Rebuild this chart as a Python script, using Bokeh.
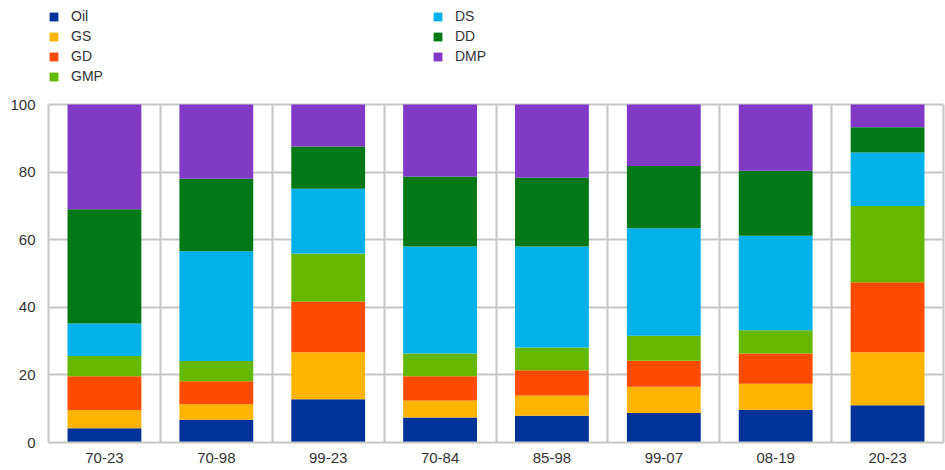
from bokeh.plotting import figure
from bokeh.models import ColumnDataSource, FixedTicker, Legend, LegendItem, Range1d, LinearAxis
from bokeh.embed import file_html
from bokeh.resources import INLINE

categories = ["70-23", "70-98", "99-23", "70-84", "85-98", "99-07", "08-19", "20-23"]
series = ["Oil", "GS", "GD", "GMP", "DS", "DD", "DMP"]
oil = [4.2, 6.7, 12.8, 7.4, 7.9, 8.7, 9.7, 11.0]
gs = [5.4, 4.6, 13.9, 5.0, 6.0, 7.8, 7.7, 15.7]
gd = [10.0, 6.8, 15.0, 7.2, 7.5, 7.7, 8.9, 20.7]
gmp = [6.0, 6.0, 14.2, 6.7, 6.7, 7.4, 6.9, 22.6]
ds = [9.6, 32.5, 19.2, 31.7, 29.9, 31.8, 28.0, 15.8]
dd = [33.8, 21.4, 12.5, 20.7, 20.3, 18.4, 19.2, 7.5]
dmp = [31.0, 22.0, 12.4, 21.3, 21.7, 18.2, 19.6, 6.7]
y_ticks = [0, 20, 40, 60, 80, 100]

colors = ["#003299", "#FFB400", "#FF4B00", "#65B800", "#00B1EA", "#007816", "#8139C6"]

xs = list(range(len(categories)))
source = ColumnDataSource(data=dict(x=xs, Oil=oil, GS=gs, GD=gd, GMP=gmp, DS=ds, DD=dd, DMP=dmp))

FONT = "Liberation Sans"
TXT = "#333333"
GRID = "#C6C6C6"

W = 945
H = 470
TOP_PX = 104      # pixel row of value 100
BOT_PX = 442      # pixel row of value 0
y_top = 100 * BOT_PX / (BOT_PX - TOP_PX)

p = figure(width=W, height=H, output_backend="svg", toolbar_location=None,
           x_range=Range1d(-0.5, len(categories) - 0.5), y_range=Range1d(0, y_top),
           min_border_left=48, min_border_right=2, min_border_top=0, min_border_bottom=H - BOT_PX)

renderers = p.vbar_stack(series, x="x", width=0.66, color=colors, line_color=None, source=source)

p.outline_line_color = None

p.xaxis.ticker = FixedTicker(ticks=xs)
p.xaxis.major_label_overrides = {i: c for i, c in enumerate(categories)}
p.yaxis.ticker = FixedTicker(ticks=y_ticks)
p.yaxis.bounds = (0, 100)
for ax in (p.xaxis[0], p.yaxis[0]):
    ax.axis_line_color = GRID
    ax.axis_line_width = 2
    ax.major_tick_line_color = None
    ax.minor_tick_line_color = None
    ax.major_tick_out = 0
    ax.major_tick_in = 0
    ax.minor_tick_out = 0
    ax.major_label_text_font = FONT
    ax.major_label_text_font_size = "15px"
    ax.major_label_text_color = TXT
p.xaxis.major_label_standoff = 10
p.yaxis.major_label_standoff = 13

right_axis = LinearAxis(ticker=FixedTicker(ticks=[]), bounds=(0, 100),
                        axis_line_color=GRID, axis_line_width=2,
                        major_tick_line_color=None, minor_tick_line_color=None,
                        major_tick_out=0, major_tick_in=0, minor_tick_out=0,
                        major_label_standoff=0)
p.add_layout(right_axis, "right")

p.xgrid.ticker = FixedTicker(ticks=[i + 0.5 for i in xs[:-1]])
p.xgrid.grid_line_color = GRID
p.xgrid.grid_line_width = 2
p.xgrid.cross_bounds = (0, 100)
p.ygrid.ticker = FixedTicker(ticks=y_ticks[1:])
p.ygrid.grid_line_color = GRID
p.ygrid.grid_line_width = 2

def make_legend(items, loc):
    return Legend(items=items, location=loc, orientation="vertical",
                  padding=0, margin=0, spacing=4,
                  glyph_width=11, glyph_height=11, label_height=12,
                  label_standoff=12, border_line_color=None, background_fill_alpha=0,
                  label_text_font=FONT, label_text_font_size="14px", label_text_color=TXT)

items = [LegendItem(label=s, renderers=[r]) for s, r in zip(series, renderers)]
p.add_layout(make_legend(items[:4], (0, BOT_PX - 84)), "center")
p.add_layout(make_legend(items[4:], (384, BOT_PX - 64)), "center")

open("out.html", "w").write(file_html(p, INLINE))
